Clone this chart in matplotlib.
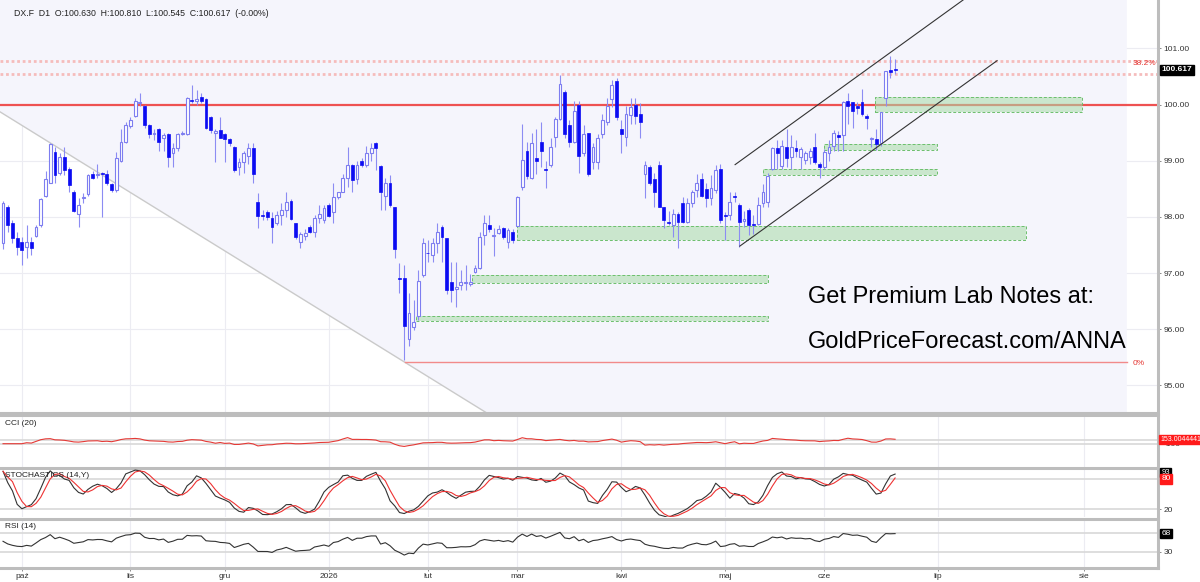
import numpy as np
import pandas as pd
import matplotlib
matplotlib.use("Agg")
import matplotlib.pyplot as plt
import matplotlib.transforms as mtransforms
from matplotlib.patches import Rectangle, Polygon

plt.rcParams['font.family'] = ['Liberation Sans', 'DejaVu Sans']

# ---------------- data ----------------
start_date = "2025-09-25"
end_date = "2026-06-22"
holidays = ["2025-12-25", "2026-01-01", "2026-02-16"]

opens = [97.53, 98.17, 97.90, 97.62, 97.55, 97.46, 97.55, 97.66, 97.85, 98.38,
         98.61, 99.15, 98.79, 99.06, 98.86, 98.45, 98.06, 98.33, 98.40, 98.77,
         98.74, 98.77, 98.77, 98.58, 98.47, 98.99, 99.33, 99.61, 99.80, 100.02,
         99.98, 99.64, 99.48, 99.57, 99.40, 99.47, 99.13, 99.22, 99.48, 99.48,
         100.08, 100.06, 100.14, 100.09, 99.77, 99.49, 99.54, 99.47, 99.38, 99.24,
         98.88, 98.97, 99.09, 99.22, 98.26, 98.03, 98.08, 97.98, 97.89, 98.03,
         98.12, 98.29, 97.89, 97.55, 97.66, 97.82, 97.73, 97.98, 97.94, 98.22,
         98.08, 98.35, 98.44, 98.70, 98.92, 98.67, 98.99, 98.92, 99.13, 99.31,
         98.90, 98.38, 98.60, 98.17, 96.90, 96.91, 95.83, 96.04, 96.23, 96.96,
         97.36, 97.32, 97.53, 97.82, 97.62, 96.84, 96.71, 96.79, 96.82, 96.80,
         97.02, 97.09, 97.67, 97.85, 97.66, 97.71, 97.80, 97.55, 97.74, 97.83,
         98.53, 99.17, 98.70, 99.04, 99.33, 98.85, 98.92, 99.43, 99.75, 100.23,
         99.63, 99.33, 100.00, 99.13, 99.50, 98.97, 98.97, 99.48, 99.68, 100.09,
         100.41, 99.57, 99.43, 99.82, 100.00, 99.84, 98.77, 98.88, 98.67, 98.93,
         98.17, 97.90, 97.85, 98.05, 98.24, 97.91, 98.24, 98.47, 98.67, 98.49,
         98.33, 98.47, 98.85, 98.03, 98.03, 98.37, 98.21, 97.92, 98.12, 97.88,
         97.87, 98.24, 98.26, 98.85, 99.22, 98.90, 99.25, 99.06, 99.22, 99.06,
         99.02, 99.06, 99.24, 98.95, 98.88, 99.13, 99.27, 99.46, 99.45, 100.07,
         100.04, 99.98, 100.05, 99.79, 99.38, 99.39, 99.31, 100.12, 100.62, 100.630]

highs = [98.28, 98.21, 97.94, 97.73, 97.64, 97.85, 97.64, 97.85, 98.33, 98.81,
         99.31, 99.24, 99.13, 99.24, 98.88, 98.47, 98.33, 98.42, 98.77, 98.81,
         98.95, 98.80, 98.83, 98.61, 99.15, 99.57, 99.68, 99.77, 100.11, 100.20,
         100.00, 99.66, 99.57, 99.59, 99.50, 99.50, 99.31, 99.50, 99.52, 100.13,
         100.34, 100.25, 100.21, 100.12, 99.80, 99.57, 99.77, 99.49, 99.40, 99.26,
         99.04, 99.18, 99.31, 99.31, 98.42, 98.12, 98.12, 98.08, 98.10, 98.24,
         98.44, 98.31, 97.89, 97.73, 97.78, 97.85, 98.03, 98.21, 98.21, 98.24,
         98.60, 98.44, 98.77, 99.24, 98.95, 99.00, 99.04, 99.27, 99.31, 99.33,
         98.92, 98.70, 98.74, 98.17, 97.18, 97.14, 96.64, 96.52, 97.05, 97.62,
         97.58, 97.62, 97.89, 97.85, 97.62, 97.19, 97.19, 97.05, 97.15, 96.98,
         97.14, 97.73, 98.03, 98.03, 97.80, 97.85, 97.82, 97.80, 97.78, 98.37,
         99.66, 99.33, 99.49, 99.57, 99.68, 99.00, 99.40, 99.77, 100.52, 100.25,
         99.72, 100.07, 100.07, 99.63, 99.50, 99.31, 99.47, 99.84, 100.12, 100.44,
         100.48, 99.72, 99.98, 100.12, 100.12, 100.02, 98.99, 98.93, 98.79, 99.00,
         98.17, 98.10, 98.14, 98.08, 98.35, 98.33, 98.47, 98.77, 98.79, 98.60,
         98.74, 98.92, 98.95, 98.08, 98.44, 98.44, 98.24, 98.10, 98.15, 98.03,
         98.35, 98.58, 98.79, 99.24, 99.36, 99.36, 99.57, 99.45, 99.36, 99.25,
         99.18, 99.22, 99.50, 98.97, 99.20, 99.36, 99.54, 99.52, 100.07, 100.20,
         100.05, 100.05, 100.28, 99.84, 99.43, 99.56, 99.86, 100.60, 100.87, 100.810]

lows = [97.42, 97.73, 97.53, 97.32, 97.14, 97.26, 97.32, 97.64, 97.82, 98.35,
        98.60, 98.61, 98.74, 98.74, 98.44, 98.08, 97.82, 98.24, 98.38, 98.67,
        98.70, 97.99, 98.56, 98.44, 98.44, 98.97, 99.31, 99.59, 99.77, 99.98,
        99.59, 99.40, 99.36, 99.18, 99.18, 98.88, 98.88, 99.18, 99.45, 99.45,
        100.03, 100.00, 100.03, 99.57, 99.50, 98.97, 99.40, 98.97, 99.27, 98.80,
        98.74, 98.79, 98.95, 98.60, 97.80, 97.94, 97.94, 97.53, 97.85, 97.85,
        97.99, 97.94, 97.60, 97.44, 97.58, 97.71, 97.64, 97.90, 97.90, 97.99,
        97.90, 98.31, 98.44, 98.53, 98.44, 98.58, 98.88, 98.88, 99.00, 98.83,
        98.12, 98.12, 98.17, 97.26, 96.64, 95.45, 95.70, 95.99, 96.16, 96.93,
        97.19, 97.19, 97.35, 97.19, 96.63, 96.48, 96.39, 96.70, 96.70, 96.77,
        97.00, 97.07, 97.50, 97.74, 97.30, 97.69, 97.60, 97.44, 97.53, 97.83,
        98.47, 98.68, 98.68, 98.77, 98.88, 98.51, 98.88, 99.24, 99.72, 99.40,
        99.24, 99.31, 98.79, 99.09, 98.72, 98.86, 98.86, 99.40, 99.63, 99.95,
        99.72, 99.13, 99.27, 99.66, 99.66, 99.41, 98.33, 98.56, 98.17, 98.17,
        97.80, 97.85, 97.64, 97.44, 97.89, 97.89, 98.17, 98.35, 98.35, 98.17,
        98.21, 98.42, 97.89, 97.58, 97.94, 98.26, 97.46, 97.82, 97.67, 97.69,
        97.85, 98.17, 98.17, 98.83, 98.86, 98.86, 98.88, 98.86, 99.06, 98.86,
        98.95, 98.95, 98.95, 98.70, 98.86, 99.00, 99.18, 99.18, 99.17, 99.66,
        99.59, 99.84, 99.80, 99.57, 99.24, 99.19, 99.27, 99.98, 100.48, 100.545]

closes = [98.24, 97.85, 97.62, 97.46, 97.41, 97.55, 97.44, 97.82, 98.31, 98.67,
          99.29, 98.74, 99.06, 98.83, 98.56, 98.10, 98.22, 98.35, 98.74, 98.69,
          98.77, 98.76, 98.60, 98.47, 99.04, 99.34, 99.64, 99.72, 100.07, 100.05,
          99.63, 99.48, 99.49, 99.33, 99.45, 99.06, 99.22, 99.48, 99.49, 100.12,
          100.07, 100.10, 100.07, 99.59, 99.54, 99.52, 99.41, 99.38, 99.31, 98.83,
          98.97, 99.13, 99.22, 98.77, 98.01, 98.01, 98.00, 97.82, 98.03, 98.12,
          98.26, 97.97, 97.64, 97.69, 97.71, 97.74, 97.98, 98.06, 98.15, 98.01,
          98.35, 98.44, 98.70, 98.92, 98.65, 98.92, 98.92, 99.13, 99.22, 99.22,
          98.45, 98.60, 98.21, 97.42, 96.89, 96.06, 96.29, 96.13, 96.86, 97.53,
          97.35, 97.53, 97.73, 97.64, 96.70, 96.70, 96.75, 96.84, 96.82, 96.85,
          97.09, 97.64, 97.89, 97.78, 97.68, 97.78, 97.64, 97.76, 97.58, 98.35,
          99.02, 98.72, 99.31, 98.99, 99.18, 98.84, 99.24, 99.75, 100.36, 99.48,
          99.33, 99.88, 99.08, 99.47, 98.76, 99.25, 99.40, 99.72, 99.98, 100.34,
          99.77, 99.47, 99.84, 99.96, 99.80, 99.68, 98.93, 98.61, 98.45, 98.17,
          97.94, 97.89, 98.05, 97.91, 97.91, 98.24, 98.44, 98.60, 98.38, 98.33,
          98.51, 98.83, 97.94, 98.02, 98.26, 98.35, 97.91, 97.97, 97.85, 97.85,
          98.21, 98.44, 98.72, 99.22, 99.13, 99.27, 99.04, 99.24, 99.18, 99.20,
          99.13, 99.18, 98.97, 98.88, 99.15, 99.25, 99.50, 99.43, 100.04, 99.98,
          99.89, 99.93, 99.84, 99.76, 99.41, 99.29, 99.86, 100.60, 100.58, 100.617]

month_labels = ['paź', 'lis', 'gru', '2026', 'lut', 'mar', 'kwi', 'maj', 'cze', 'lip', 'sie']
month_dates = ['2025-10-01', '2025-11-01', '2025-12-01', '2026-01-01', '2026-02-01',
               '2026-03-01', '2026-04-01', '2026-05-01', '2026-06-01', '2026-07-01', '2026-08-01']
price_ticks = [95, 96, 97, 98, 99, 100, 101]

resistance_level = 100.0
dotted_levels = [100.77, 100.54]
fib_382 = 100.77
fib_0 = 95.42
fib_0_start = 85.2

# demand zones: (x start, x end, low, high) in bar units
zones = [(184.7, 228.6, 99.87, 100.14),
         (173.9, 197.9, 99.19, 99.30),
         (161.0, 197.9, 98.75, 98.86),
         (108.9, 216.7, 97.58, 97.84),
         (99.4, 162.0, 96.83, 96.97),
         (87.5, 162.0, 96.14, 96.24)]

channel_upper = [(155.1, 98.93), (203.4, 101.86)]
channel_lower = [(156.1, 97.48), (210.6, 100.78)]
gray_trend = [(-0.64, 99.87), (102.5, 94.51)]
shade_right = 238.1

header = "DX.F  D1  O:100.630  H:100.810  L:100.545  C:100.617  (-0.00%)"
cci_label_value = "153.0044441"

# ---------------- derived ----------------
dates = pd.bdate_range(start_date, end_date)
dates = dates[~dates.isin(pd.to_datetime(holidays))]
N = len(dates)
x = np.arange(N)
o = np.array(opens); h = np.array(highs); l = np.array(lows); c = np.array(closes)


def date_pos(d):
    d = pd.Timestamp(d)
    if d <= dates[-1]:
        return int(np.searchsorted(dates.values, np.datetime64(d)))
    return (N - 1) + (d - dates[-1]).days


month_pos = [date_pos(d) for d in month_dates]

H = pd.Series(h); L = pd.Series(l); C = pd.Series(c)
tp = (H + L + C) / 3
sma = tp.rolling(20, min_periods=3).mean()
md = tp.rolling(20, min_periods=3).apply(lambda v: np.mean(np.abs(v - v.mean())), raw=True)
cci = ((tp - sma) / (0.015 * md)).bfill()

ll = L.rolling(14, min_periods=1).min()
hh = H.rolling(14, min_periods=1).max()
fastk = 100 * (C - ll) / (hh - ll).replace(0, np.nan)
fastk = fastk.bfill()
stoch_k = fastk.rolling(3, min_periods=1).mean()
stoch_d = stoch_k.rolling(3, min_periods=1).mean()

# RSI(14), Wilder smoothing seeded with the series' average gain / loss
delta = np.diff(c, prepend=c[0])
g = np.clip(delta, 0, None)
ls_ = np.clip(-delta, 0, None)
ag, al = g[1:].mean(), ls_[1:].mean()
rsi = np.empty(N)
for i in range(N):
    if i > 0:
        ag = (ag * 13 + g[i]) / 14
        al = (al * 13 + ls_[i]) / 14
    rsi[i] = 100 - 100 / (1 + ag / al)

# ---------------- figure ----------------
W, Hpx = 1200, 582
fig = plt.figure(figsize=(W / 100, Hpx / 100), dpi=100)
fig.patch.set_facecolor('white')
right = 1158 / W


def add_ax(top_px, bot_px):
    return fig.add_axes([0, 1 - bot_px / Hpx, right, (bot_px - top_px) / Hpx])


ax = add_ax(0, 413)
ax_cci = add_ax(415, 467)
ax_st = add_ax(468, 517)
ax_rsi = add_ax(519, 568)

XL = (-0.64, 244.7)
grid_c = '#ececf2'
spine_c = '#bdbdbd'

for a in (ax, ax_cci, ax_st, ax_rsi):
    a.set_xlim(*XL)
    a.set_facecolor('white')
    for s in ('left', 'top', 'bottom'):
        a.spines[s].set_visible(False)
    a.spines['right'].set_color(spine_c)
    a.spines['right'].set_linewidth(2.2)
    a.yaxis.tick_right()
    a.tick_params(axis='y', length=2.5, width=0.6, color='#777', labelsize=6,
                  labelcolor='#333', pad=1.5)
    a.set_xticks(month_pos)
    for mp in month_pos:
        a.axvline(mp, color=grid_c, lw=0.8, zorder=0)
    if a is not ax_rsi:
        a.tick_params(axis='x', length=0, labelbottom=False)

for a in (ax_cci, ax_st, ax_rsi):
    a.spines['top'].set_visible(True)
    a.spines['top'].set_color(spine_c)
    a.spines['top'].set_linewidth(2.2)
ax.spines['bottom'].set_visible(True)
ax.spines['bottom'].set_color(spine_c)
ax.spines['bottom'].set_linewidth(1.5)
ax_rsi.spines['bottom'].set_visible(True)
ax_rsi.spines['bottom'].set_color(spine_c)
ax_rsi.spines['bottom'].set_linewidth(2.2)
ax_rsi.set_xticklabels(month_labels)
ax_rsi.tick_params(axis='x', length=2, width=0.6, color='#777', labelsize=6,
                   labelcolor='#333', pad=1.5)

# ---- main panel ----
YL = (94.51, 101.86)
ax.set_ylim(*YL)
ax.set_yticks(price_ticks)
ax.set_yticklabels([f"{v:.2f}" for v in price_ticks])
for v in price_ticks:
    ax.axhline(v, color=grid_c, lw=0.8, zorder=0)

shade = Polygon([(XL[0], YL[1]), (shade_right, YL[1]), (shade_right, YL[0]),
                 gray_trend[1], gray_trend[0]], closed=True,
                facecolor='#f5f5fc', edgecolor='none', zorder=0.5)
ax.add_patch(shade)
ax.plot([p[0] for p in gray_trend], [p[1] for p in gray_trend], color='#cacaca', lw=1.0, zorder=1)

for lv in dotted_levels:
    ax.axhline(lv, color='#f5bcbc', lw=2.0, ls=(0, (1, 1)), zorder=1)
ax.axhline(resistance_level, color='#ee5252', lw=1.6, zorder=2)
ax.plot([fib_0_start, shade_right], [fib_0, fib_0], color='#f28a8a', lw=1.0, zorder=1)
ax.text(shade_right + 1.3, fib_382 - 0.04, "38.2%", color='#e53935', fontsize=6, va='center', ha='left')
ax.text(shade_right + 1.3, fib_0 - 0.03, "0%", color='#e53935', fontsize=6, va='center', ha='left')

for (x0, x1, lo, hi) in zones:
    ax.add_patch(Rectangle((x0, lo), x1 - x0, hi - lo, facecolor='#a8dba8', alpha=0.55,
                           edgecolor='none', zorder=2))
    ax.add_patch(Rectangle((x0, lo), x1 - x0, hi - lo, facecolor='none',
                           edgecolor='#6cbf6c', lw=0.7, ls=(0, (3, 2)), zorder=2.1))

for ln in (channel_upper, channel_lower):
    ax.plot([p[0] for p in ln], [p[1] for p in ln], color='#333333', lw=0.8, zorder=5)

up = c >= o
ax.vlines(x, l, h, color='#8c8cf3', lw=0.8, zorder=3)
blo = np.minimum(o, c)
bh = np.maximum(np.abs(c - o), 0.015)
ax.bar(x[up], bh[up], bottom=blo[up], width=0.6, facecolor='white',
       edgecolor='#7d7df0', linewidth=0.8, zorder=4)
ax.bar(x[~up], bh[~up], bottom=blo[~up], width=0.6, facecolor='#0b0bf2',
       edgecolor='#0b0bf2', linewidth=0.5, zorder=4)

blend = mtransforms.blended_transform_factory(ax.transAxes, ax.transData)
ax.text(1.003, c[-1], f"{c[-1]:.3f}", transform=blend, color='white', fontsize=6,
        fontweight='bold', va='center', ha='left', clip_on=False, zorder=10,
        bbox=dict(boxstyle='square,pad=0.18', facecolor='black', edgecolor='black'))

ax.text(808 / 1158, 1 - 297 / 413, "Get Premium Lab Notes at:", transform=ax.transAxes,
        fontsize=17, color='black', va='center', ha='left', zorder=10)
ax.text(808 / 1158, 1 - 342 / 413, "GoldPriceForecast.com/ANNA", transform=ax.transAxes,
        fontsize=17, color='black', va='center', ha='left', zorder=10)

fig.text(14 / W, 1 - 13 / Hpx, header, fontsize=6.3, color='#222', va='center', ha='left')

# ---- CCI ----
ax_cci.set_ylim(-1470, 1588)
for lv in (100, -100):
    ax_cci.axhline(lv, color='#d8d8d8', lw=1.2, zorder=1)
ax_cci.plot(x, cci, color='#e53935', lw=0.8, zorder=3)
ax_cci.set_yticks([-100])
ax_cci.set_yticklabels(['-100'])
ax_cci.text(0.004, 0.84, "CCI (20)", transform=ax_cci.transAxes, fontsize=6, color='#222', va='center')
b2 = mtransforms.blended_transform_factory(ax_cci.transAxes, ax_cci.transData)
ax_cci.text(1.002, 153, cci_label_value, transform=b2, color='white', fontsize=5,
            va='center', ha='left', clip_on=False, zorder=10,
            bbox=dict(boxstyle='square,pad=0.12', facecolor='#ff1a1a', edgecolor='#ff1a1a'))

# ---- Stochastics ----
ax_st.set_ylim(4, 102)
for lv in (80, 20):
    ax_st.axhline(lv, color='#d8d8d8', lw=1.2, zorder=1)
ax_st.plot(x, stoch_k, color='#333333', lw=0.8, zorder=3)
ax_st.plot(x, stoch_d, color='#ee3333', lw=0.8, zorder=3)
ax_st.set_yticks([20])
ax_st.set_yticklabels(['20'])
ax_st.text(0.004, 0.84, "STOCHASTICS (14,Y)", transform=ax_st.transAxes, fontsize=6, color='#222', va='center')
b3 = mtransforms.blended_transform_factory(ax_st.transAxes, ax_st.transData)
ax_st.text(1.003, 93, "93", transform=b3, color='white', fontsize=5.5,
           va='center', ha='left', clip_on=False, zorder=10,
           bbox=dict(boxstyle='square,pad=0.15', facecolor='black', edgecolor='black'))
ax_st.text(1.003, 80, "80", transform=b3, color='white', fontsize=6,
           va='center', ha='left', clip_on=False, zorder=11,
           bbox=dict(boxstyle='square,pad=0.15', facecolor='#ff1a1a', edgecolor='#ff1a1a'))

# ---- RSI ----
ax_rsi.set_ylim(-3.7, 99.4)
for lv in (70, 30):
    ax_rsi.axhline(lv, color='#d8d8d8', lw=1.2, zorder=1)
ax_rsi.plot(x, rsi, color='#333333', lw=0.8, zorder=3)
ax_rsi.set_yticks([30])
ax_rsi.set_yticklabels(['30'])
ax_rsi.text(0.004, 0.84, "RSI (14)", transform=ax_rsi.transAxes, fontsize=6, color='#222', va='center')
b4 = mtransforms.blended_transform_factory(ax_rsi.transAxes, ax_rsi.transData)
ax_rsi.text(1.003, 69, "68", transform=b4, color='white', fontsize=6,
            va='center', ha='left', clip_on=False, zorder=10,
            bbox=dict(boxstyle='square,pad=0.15', facecolor='black', edgecolor='black'))

fig.savefig("out.png", dpi=100, facecolor='white')
